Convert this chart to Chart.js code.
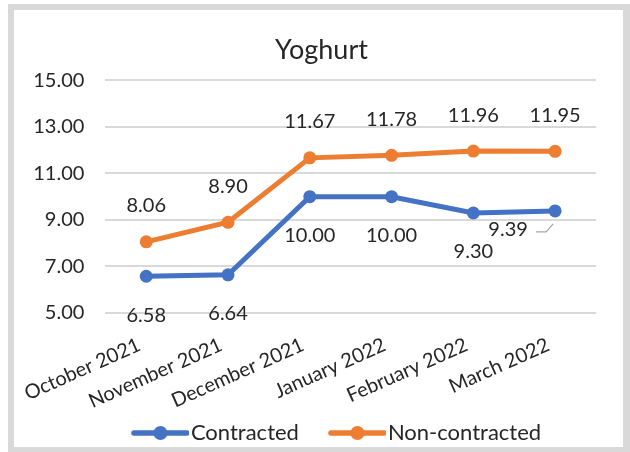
<!DOCTYPE html>
<html>
<head>
<meta charset="utf-8">
<script src="https://cdn.jsdelivr.net/npm/chart.js@4/dist/chart.umd.min.js"></script>
<style>
  html, body { margin: 0; padding: 0; background: #ffffff; }
  #frame { position: absolute; left: 8px; top: 4px; width: 622px; height: 448px; background: #d9d9d9; }
  #box { position: absolute; left: 14px; top: 10px; width: 609px; height: 437px; background: #ffffff; }
  canvas { display: block; }
</style>
</head>
<body>
<div id="frame"></div>
<div id="box"><canvas id="c" width="609" height="437"></canvas></div>
<script>
const categories = ["October 2021", "November 2021", "December 2021", "January 2022", "February 2022", "March 2022"];
const contracted = [6.58, 6.64, 10.00, 10.00, 9.30, 9.39];
const nonContracted = [8.06, 8.90, 11.67, 11.78, 11.96, 11.95];
const seriesNames = ["Contracted", "Non-contracted"];
const yTicks = [5, 7, 9, 11, 13, 15];

const BLUE = "#4472C4";
const ORANGE = "#ED7D31";
const FONT = "Lato, 'Open Sans', sans-serif";

// legend icon: line with marker; transparent lead-in area gives item spacing
function legendIcon(color) {
  const c = document.createElement("canvas");
  c.width = 96; c.height = 16;
  const g = c.getContext("2d");
  g.strokeStyle = color; g.lineWidth = 5.5; g.lineCap = "round";
  g.beginPath(); g.moveTo(41, 8); g.lineTo(94, 8); g.stroke();
  g.fillStyle = color;
  g.beginPath(); g.arc(67.5, 8, 7, 0, Math.PI * 2); g.fill();
  return c;
}

const labelPlugin = {
  id: "valueLabels",
  afterDatasetsDraw(chart) {
    const ctx = chart.ctx;
    ctx.save();
    ctx.font = "20px " + FONT;
    ctx.fillStyle = "#262626";
    ctx.textAlign = "center";
    ctx.textBaseline = "middle";
    chart.data.datasets.forEach((ds, di) => {
      const meta = chart.getDatasetMeta(di);
      meta.data.forEach((pt, i) => {
        const txt = ds.data[i].toFixed(2);
        let x = pt.x, y = pt.y;
        if (di === 1) {
          y -= 36;
        } else if (i === ds.data.length - 1) {
          // label pushed to lower-left with a leader line
          x -= 47; y += 19;
          ctx.save();
          ctx.strokeStyle = "#a6a6a6";
          ctx.lineWidth = 1.2;
          ctx.beginPath();
          ctx.moveTo(x + 28, y + 2);
          ctx.lineTo(x + 38, y + 2);
          ctx.lineTo(pt.x - 2, pt.y + 13);
          ctx.stroke();
          ctx.restore();
        } else {
          y += 39;
        }
        ctx.fillText(txt, x, y);
      });
    });
    ctx.restore();
  }
};

new Chart(document.getElementById("c"), {
  type: "line",
  data: {
    labels: categories,
    datasets: [
      { label: seriesNames[0], data: contracted, borderColor: BLUE, backgroundColor: BLUE,
        borderWidth: 5, pointRadius: 6.5, pointBorderWidth: 0, pointBackgroundColor: BLUE, tension: 0 },
      { label: seriesNames[1], data: nonContracted, borderColor: ORANGE, backgroundColor: ORANGE,
        borderWidth: 5, pointRadius: 6.5, pointBorderWidth: 0, pointBackgroundColor: ORANGE, tension: 0 }
    ]
  },
  options: {
    responsive: false,
    animation: false,
    layout: { padding: { left: 4, right: -2, top: 24, bottom: -7 } },
    scales: {
      x: {
        offset: true,
        afterFit(scale) { scale.height = 109; },
        grid: { display: false },
        border: { display: false },
        ticks: { color: "#262626", font: { family: FONT, size: 20 }, minRotation: 24, maxRotation: 24,
          padding: 12, labelOffset: -7 }
      },
      y: {
        min: 5, max: 15,
        afterFit(scale) { scale.width = 75; },
        afterBuildTicks(scale) { scale.ticks = yTicks.map(v => ({ value: v })); },
        grid: { color: "#d9d9d9", lineWidth: 2, drawTicks: false },
        border: { display: false },
        ticks: { color: "#262626", font: { family: FONT, size: 20 }, padding: 21,
          callback: v => Number(v).toFixed(2) }
      },
      yRightSpace: {
        position: "right", min: 0, max: 1,
        afterFit(scale) { scale.width = 29; },
        grid: { display: false, drawTicks: false },
        border: { display: false },
        ticks: { display: false }
      }
    },
    plugins: {
      title: { display: true, text: "Yoghurt", color: "#262626",
        font: { family: FONT, size: 27, weight: "normal" }, padding: { top: 0, bottom: 14 } },
      legend: {
        position: "bottom",
        labels: {
          usePointStyle: true, pointStyleWidth: 78, padding: 0,
          color: "#262626", font: { family: FONT, size: 22 },
          generateLabels(chart) {
            return chart.data.datasets.map((ds, i) => ({
              text: ds.label, pointStyle: legendIcon(ds.borderColor),
              fillStyle: ds.borderColor, strokeStyle: ds.borderColor, lineWidth: 0,
              fontColor: "#262626", datasetIndex: i, hidden: false
            }));
          }
        }
      },
      tooltip: { enabled: false }
    }
  },
  plugins: [labelPlugin]
});
</script>
</body>
</html>
